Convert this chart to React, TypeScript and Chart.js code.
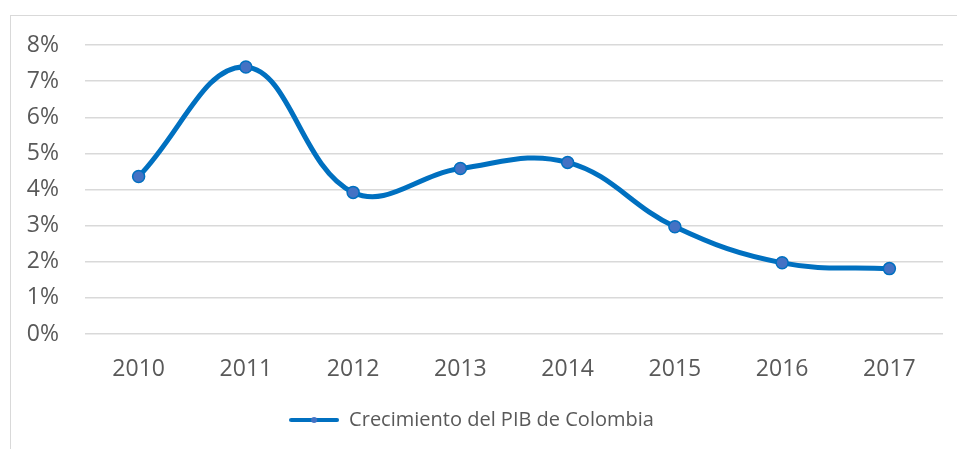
import React, { useEffect, useRef } from "react";
import { Chart, registerables } from "chart.js";

Chart.register(...registerables);

const years = ["2010", "2011", "2012", "2013", "2014", "2015", "2016", "2017"];
const growth = [4.36, 7.39, 3.92, 4.58, 4.75, 2.97, 1.97, 1.81];
const seriesLabel = "Crecimiento del PIB de Colombia";
const yTicks = [0, 1, 2, 3, 4, 5, 6, 7, 8];

const LINE = "#0070C0";
const POINT = "#4472C4";
const TEXT = "#595959";
const GRID = "#D9D9D9";

function legendIcon(): HTMLCanvasElement {
  const c = document.createElement("canvas");
  c.width = 50;
  c.height = 12;
  const g = c.getContext("2d")!;
  g.strokeStyle = LINE;
  g.lineWidth = 4;
  g.lineCap = "round";
  g.beginPath();
  g.moveTo(2, 6);
  g.lineTo(48, 6);
  g.stroke();
  g.fillStyle = POINT;
  g.beginPath();
  g.arc(25, 6, 3, 0, Math.PI * 2);
  g.fill();
  return c;
}

export default function App() {
  const ref = useRef<HTMLCanvasElement | null>(null);
  useEffect(() => {
    if (!ref.current) return;
    const icon = legendIcon();
    const chart = new Chart(ref.current, {
      type: "line",
      data: {
        labels: years,
        datasets: [
          {
            label: seriesLabel,
            data: growth,
            borderColor: LINE,
            backgroundColor: POINT,
            borderWidth: 5,
            tension: 0.4,
            pointRadius: 6,
            pointBackgroundColor: POINT,
            pointBorderColor: LINE,
            pointBorderWidth: 1.5,
          },
        ],
      },
      options: {
        animation: false,
        responsive: false,
        maintainAspectRatio: false,
        layout: { padding: { top: 45, right: 14, left: 0, bottom: 9 } },
        scales: {
          x: {
            offset: true,
            grid: { display: false, drawTicks: false },
            border: { display: false },
            ticks: {
              color: TEXT,
              padding: 22,
              font: { family: "'Open Sans'", size: 23 },
            },
            afterFit: (s: any) => {
              s.height = 66;
            },
          },
          y: {
            min: 0,
            max: 8,
            afterBuildTicks: (s: any) => {
              s.ticks = yTicks.map((v) => ({ value: v }));
            },
            grid: { color: GRID, lineWidth: 1.5, drawTicks: false },
            border: { display: false },
            ticks: {
              color: TEXT,
              padding: 26,
              font: { family: "'Open Sans'", size: 23 },
              callback: (v: any) => `${v}%`,
            },
            afterFit: (s: any) => {
              s.width = 85;
            },
          },
        },
        plugins: {
          legend: {
            position: "bottom",
            labels: {
              color: TEXT,
              font: { family: "'Open Sans'", size: 20 },
              usePointStyle: true,
              pointStyle: icon as any,
              pointStyleWidth: 50,
              boxHeight: 12,
              padding: 10,
            },
          },
          tooltip: { enabled: false },
        },
      },
    });
    return () => chart.destroy();
  }, []);
  return (
    <div>
      <div
        style={{
          position: "fixed",
          left: 10,
          top: 15,
          width: 1000,
          height: 1000,
          borderTop: "1px solid #D9D9D9",
          borderLeft: "1px solid #D9D9D9",
        }}
      />
      <canvas
        ref={ref}
        width={957}
        height={449}
        style={{ position: "fixed", left: 0, top: 0, width: 957, height: 449 }}
      />
    </div>
  );
}
